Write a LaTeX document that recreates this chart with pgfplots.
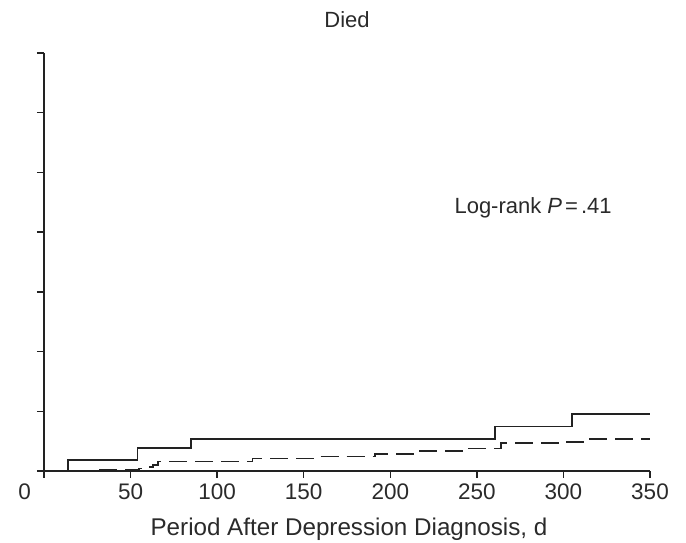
\documentclass[border=0pt]{standalone}
\usepackage{pgfplots}
\pgfplotsset{compat=1.18}
\usepackage{fontspec}
\setmainfont{Liberation Sans}
\definecolor{ink}{HTML}{222222}
\definecolor{txt}{HTML}{2a2a2a}
\begin{document}
\begin{tikzpicture}
\begin{axis}[
  scale only axis,
  width=606pt, height=418pt,
  xmin=0, xmax=350, ymin=0, ymax=0.35,
  axis lines=left,
  axis line style={-, line width=1.4pt, ink},
  clip=false,
  xtick={0,50,100,150,200,250,300,350},
  xticklabels={{\makebox[0pt][r]{0\kern13pt}},50,100,150,200,250,300,350},
  ytick={0,0.05,0.1,0.15,0.2,0.25,0.3,0.35},
  yticklabels={},
  tick align=outside,
  major tick length=7pt,
  tick style={line width=1.4pt, ink},
  /pgf/number format/assume math mode=true,
  ticklabel style={font=\fontsize{22.5}{26}\selectfont, text=txt},
  xticklabel style={yshift=-2pt},
]
\addplot[const plot, ink, line width=1.6pt] coordinates {
  (0,0) (14,0.009) (54,0.0195) (85,0.0268) (260.6,0.0374) (305,0.0477) (350,0.0477)
};
\addplot[const plot, ink, line width=1.6pt, dash pattern=on 18pt off 8pt] coordinates {
  (32,0.0014) (55,0.0022) (60,0.0034) (63,0.0048) (66,0.0081) (120.5,0.0106) (156.5,0.012)
  (191,0.014) (215,0.0165) (243,0.019) (264,0.0232) (302,0.0245) (312,0.0268) (350,0.0268)
};
\node[anchor=base west, inner sep=0pt, font=\fontsize{22}{26}\selectfont, text=txt]
  at (axis cs:237,0.216) {Log-rank \textit{P}\hspace{3pt}=\hspace{3pt}.41};
\end{axis}
\node[anchor=base, inner sep=0pt, font=\fontsize{22}{26}\selectfont, text=txt]
  at ([yshift=25pt]current axis.north) {Died};
\node[anchor=base, inner sep=0pt, font=\fontsize{24.2}{28}\selectfont, text=txt]
  at ([xshift=2pt,yshift=-65pt]current axis.south) {Period After Depression Diagnosis, d};
\path (current axis.south west) ++(-44pt,-72pt) rectangle ++(686pt,543pt);
\end{tikzpicture}
\end{document}
